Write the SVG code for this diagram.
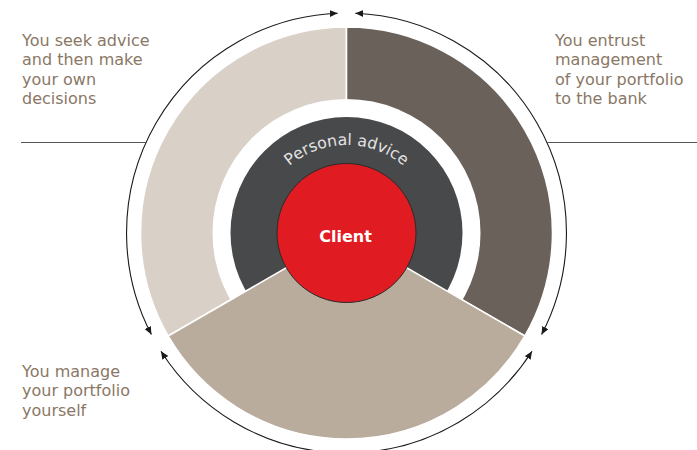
<svg xmlns="http://www.w3.org/2000/svg" xmlns:xlink="http://www.w3.org/1999/xlink" width="697" height="450" viewBox="0 0 697 450">
<style>
.lbl{font-family:"DejaVu Sans","Verdana",sans-serif;font-size:16px;fill:#8A7765}
.arc{fill:none;stroke:#1a1a1a;stroke-width:1.1}
.rule{stroke:#555;stroke-width:1.2}
.seg{stroke:#fff;stroke-width:1.6}
</style>
<defs>
<marker id="ah" markerUnits="userSpaceOnUse" markerWidth="10" markerHeight="10" refX="8" refY="3.5" orient="auto-start-reverse">
<path d="M0,0 L8,3.5 L0,7 z" fill="#1a1a1a"/>
</marker>
<path id="tp" d="M258.5,233 A88,88 0 0 1 434.5,233"/>
</defs>
<g id="segments">
<g id="seg-advice"><path class="seg" d="M346.5,233 L168.1,336 A206,206 0 0 1 346.5,27 Z" fill="#D9D0C7"/></g>
<g id="seg-mandate"><path class="seg" d="M346.5,233 L346.5,27 A206,206 0 0 1 524.9,336 Z" fill="#6A615B"/></g>
<circle cx="346.5" cy="233" r="134" fill="#fff"/>
<g id="personal-advice">
<circle cx="346.5" cy="233" r="116" fill="#48494B"/>
<text font-family="DejaVu Sans, Verdana, sans-serif" font-size="15.8" fill="#E2E2E2" text-anchor="middle"><textPath xlink:href="#tp" href="#tp" startOffset="50%">Personal advice</textPath></text>
</g>
<g id="seg-self"><path class="seg" d="M346.5,233 L524.9,336 A206,206 0 0 1 168.1,336 Z" fill="#B9AC9D"/></g>
</g>
<g id="client">
<circle cx="346.5" cy="233" r="69.5" fill="#E11B22" stroke="#2a2a2a" stroke-width="1"/>
<text x="345.5" y="242" text-anchor="middle" font-family="DejaVu Sans, Verdana, sans-serif" font-size="16" font-weight="bold" fill="#fff">Client</text>
</g>
<g id="connectors">
<path class="arc" d="M337.7,13.2 A220,220 0 0 0 151.4,334.6" marker-start="url(#ah)" marker-end="url(#ah)"/>
<path class="arc" d="M161,351.2 A220,220 0 0 0 532,351.2" marker-start="url(#ah)" marker-end="url(#ah)"/>
<path class="arc" d="M541.6,334.6 A220,220 0 0 0 355.3,13.2" marker-start="url(#ah)" marker-end="url(#ah)"/>
<line class="rule" x1="21" y1="142.5" x2="146" y2="142.5"/>
<line class="rule" x1="547" y1="142.5" x2="697" y2="142.5"/>
</g>
<g id="label-advice">
<text class="lbl" x="22" y="45.5">You seek advice</text>
<text class="lbl" x="22" y="65">and then make</text>
<text class="lbl" x="22" y="84.5">your own</text>
<text class="lbl" x="22" y="104">decisions</text>
</g>
<g id="label-mandate">
<text class="lbl" x="555" y="45.5">You entrust</text>
<text class="lbl" x="555" y="65">management</text>
<text class="lbl" x="555" y="84.5">of your portfolio</text>
<text class="lbl" x="555" y="104">to the bank</text>
</g>
<g id="label-self">
<text class="lbl" x="22" y="376.5">You manage</text>
<text class="lbl" x="22" y="396">your portfolio</text>
<text class="lbl" x="22" y="415.5">yourself</text>
</g>
</svg>
